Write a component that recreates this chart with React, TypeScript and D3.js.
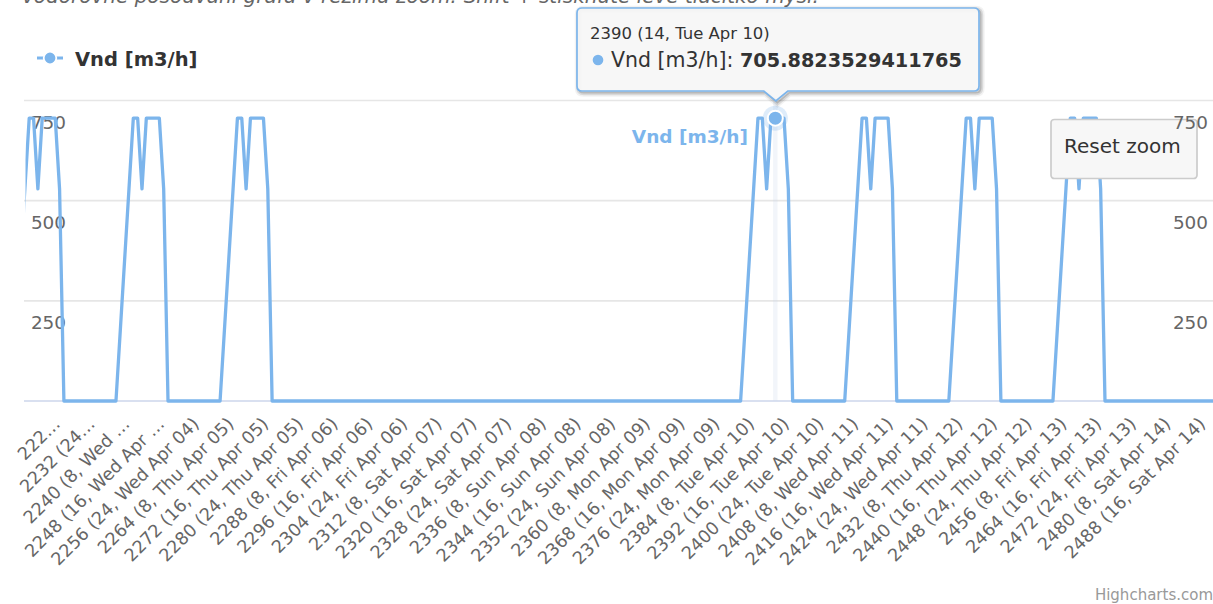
import React from 'react';
import * as d3 from 'd3';

// ---------- data ----------
const startCategory = 2209; // hour 1 of Tue Apr 03
const dayNames: string[] = [
  'Tue Apr 03', 'Wed Apr 04', 'Thu Apr 05', 'Fri Apr 06', 'Sat Apr 07', 'Sun Apr 08',
  'Mon Apr 09', 'Tue Apr 10', 'Wed Apr 11', 'Thu Apr 12', 'Fri Apr 13', 'Sat Apr 14',
];
// hourly values, one row per day (hours 1..24)
const vnd: number[] = [
  // Tue Apr 03
  0, 0, 0, 0, 0, 0, 176.47, 352.94, 529.41, 705.8823529411765, 705.8823529411765, 529.41, 705.8823529411765, 705.8823529411765, 705.8823529411765, 705.8823529411765, 529.41, 0, 0, 0, 0, 0, 0, 0,
  // Wed Apr 04
  0, 0, 0, 0, 0, 0, 176.47, 352.94, 529.41, 705.8823529411765, 705.8823529411765, 529.41, 705.8823529411765, 705.8823529411765, 705.8823529411765, 705.8823529411765, 529.41, 0, 0, 0, 0, 0, 0, 0,
  // Thu Apr 05
  0, 0, 0, 0, 0, 0, 176.47, 352.94, 529.41, 705.8823529411765, 705.8823529411765, 529.41, 705.8823529411765, 705.8823529411765, 705.8823529411765, 705.8823529411765, 529.41, 0, 0, 0, 0, 0, 0, 0,
  // Fri Apr 06
  0, 0, 0, 0, 0, 0, 0, 0, 0, 0, 0, 0, 0, 0, 0, 0, 0, 0, 0, 0, 0, 0, 0, 0,
  // Sat Apr 07
  0, 0, 0, 0, 0, 0, 0, 0, 0, 0, 0, 0, 0, 0, 0, 0, 0, 0, 0, 0, 0, 0, 0, 0,
  // Sun Apr 08
  0, 0, 0, 0, 0, 0, 0, 0, 0, 0, 0, 0, 0, 0, 0, 0, 0, 0, 0, 0, 0, 0, 0, 0,
  // Mon Apr 09
  0, 0, 0, 0, 0, 0, 0, 0, 0, 0, 0, 0, 0, 0, 0, 0, 0, 0, 0, 0, 0, 0, 0, 0,
  // Tue Apr 10
  0, 0, 0, 0, 0, 0, 176.47, 352.94, 529.41, 705.8823529411765, 705.8823529411765, 529.41, 705.8823529411765, 705.8823529411765, 705.8823529411765, 705.8823529411765, 529.41, 0, 0, 0, 0, 0, 0, 0,
  // Wed Apr 11
  0, 0, 0, 0, 0, 0, 176.47, 352.94, 529.41, 705.8823529411765, 705.8823529411765, 529.41, 705.8823529411765, 705.8823529411765, 705.8823529411765, 705.8823529411765, 529.41, 0, 0, 0, 0, 0, 0, 0,
  // Thu Apr 12
  0, 0, 0, 0, 0, 0, 176.47, 352.94, 529.41, 705.8823529411765, 705.8823529411765, 529.41, 705.8823529411765, 705.8823529411765, 705.8823529411765, 705.8823529411765, 529.41, 0, 0, 0, 0, 0, 0, 0,
  // Fri Apr 13
  0, 0, 0, 0, 0, 0, 176.47, 352.94, 529.41, 705.8823529411765, 705.8823529411765, 529.41, 705.8823529411765, 705.8823529411765, 705.8823529411765, 705.8823529411765, 529.41, 0, 0, 0, 0, 0, 0, 0,
  // Sat Apr 14
  0, 0, 0, 0, 0, 0, 0, 0, 0, 0, 0, 0, 0, 0, 0, 0, 0, 0, 0, 0, 0, 0, 0, 0,
];

const viewMin = 2216.8; // zoomed window
const viewMax = 2490.9;
const tickCategories: number[] = d3.range(2224, 2489, 8);
const tickLabels: string[] = [
  '222…', '2232 (24…', '2240 (8, Wed …', '2248 (16, Wed Apr …', '2256 (24, Wed Apr 04)',
  '2264 (8, Thu Apr 05)', '2272 (16, Thu Apr 05)', '2280 (24, Thu Apr 05)', '2288 (8, Fri Apr 06)',
  '2296 (16, Fri Apr 06)', '2304 (24, Fri Apr 06)', '2312 (8, Sat Apr 07)', '2320 (16, Sat Apr 07)',
  '2328 (24, Sat Apr 07)', '2336 (8, Sun Apr 08)', '2344 (16, Sun Apr 08)', '2352 (24, Sun Apr 08)',
  '2360 (8, Mon Apr 09)', '2368 (16, Mon Apr 09)', '2376 (24, Mon Apr 09)', '2384 (8, Tue Apr 10)',
  '2392 (16, Tue Apr 10)', '2400 (24, Tue Apr 10)', '2408 (8, Wed Apr 11)', '2416 (16, Wed Apr 11)',
  '2424 (24, Wed Apr 11)', '2432 (8, Thu Apr 12)', '2440 (16, Thu Apr 12)', '2448 (24, Thu Apr 12)',
  '2456 (8, Fri Apr 13)', '2464 (16, Fri Apr 13)', '2472 (24, Fri Apr 13)', '2480 (8, Sat Apr 14)',
  '2488 (16, Sat Apr 14)',
];
const yTicks: number[] = [250, 500, 750];
const seriesName = 'Vnd [m3/h]';
const hoverCategory = 2390;
const subtitle = 'vodorovné posouvání grafu v režimu zoom: Shift + stisknuté levé tlačítko myši.';

// ---------- layout ----------
const W = 1213;
const H = 604;
const plotLeft = 24;
const plotRight = 1213;
const plotTop = 100.5;
const plotBottom = 401;
const color = '#7cb5ec';
const font = '"DejaVu Sans", Verdana, sans-serif';

function categoryLabel(c: number): string {
  const i = c - startCategory;
  const hour = (i % 24) + 1;
  return `${c} (${hour}, ${dayNames[Math.floor(i / 24)]})`;
}

export default function App() {
  const x = d3.scaleLinear().domain([viewMin, viewMax]).range([plotLeft, plotRight]);
  const y = d3.scaleLinear().domain([0, 750]).range([plotBottom, plotTop]);
  const line = d3
    .line<number>()
    .x((_, i) => x(startCategory + i))
    .y((d) => y(d));
  const catW = x(1) - x(0);

  const hv = vnd[hoverCategory - startCategory];
  const hx = x(hoverCategory);
  const hy = y(hv);

  // tooltip callout
  const tx0 = 577, tx1 = 979, ty0 = 8, ty1 = 91, r = 5;
  const tipX = hx + 0.5, tipY = 101;
  const tooltipPath = `M${tx0 + r},${ty0} L${tx1 - r},${ty0} Q${tx1},${ty0} ${tx1},${ty0 + r} L${tx1},${ty1 - r} Q${tx1},${ty1} ${tx1 - r},${ty1} L${tipX + 12},${ty1} L${tipX},${tipY} L${tipX - 12},${ty1} L${tx0 + r},${ty1} Q${tx0},${ty1} ${tx0},${ty1 - r} L${tx0},${ty0 + r} Q${tx0},${ty0} ${tx0 + r},${ty0} Z`;

  return (
    <svg
      width={W}
      height={H}
      style={{ position: 'absolute', left: 0, top: 0, background: '#fff', fontFamily: font }}
    >
      <defs>
        <clipPath id="plotClip">
          <rect x={plotLeft + 1.5} y={plotTop - 10} width={plotRight - plotLeft} height={plotBottom - plotTop + 20} />
        </clipPath>
      </defs>
      <rect x={0} y={0} width={W} height={H} fill="#fff" />

      {/* subtitle (cut off at top, as in the reference) */}
      <text x={22} y={3} fontSize={20} fontStyle="italic" fill="#666666">
        {subtitle}
      </text>

      {/* legend */}
      <g>
        <line x1={37} x2={63} y1={58} y2={58} stroke={color} strokeWidth={3} />
        <circle cx={50} cy={58} r={6.3} fill={color} stroke="#fff" strokeWidth={1.8} />
        <text x={75} y={65.5} fontSize={19.5} fontWeight="bold" fill="#333333">
          {seriesName}
        </text>
      </g>

      {/* gridlines */}
      {yTicks.map((t) => (
        <line key={t} x1={plotLeft} x2={plotRight} y1={y(t)} y2={y(t)} stroke="#e6e6e6" strokeWidth={1.7} />
      ))}

      {/* crosshair band */}
      <rect x={hx - catW / 2} y={plotTop} width={catW} height={plotBottom - plotTop} fill="rgba(204,214,235,0.25)" />

      {/* x axis line */}
      <line x1={plotLeft} x2={plotRight} y1={plotBottom} y2={plotBottom} stroke="#ccd6eb" strokeWidth={1.7} />

      {/* left y labels */}
      {yTicks.map((t) => (
        <text key={'yl' + t} x={66} y={y(t) + 28.5} fontSize={18.4} fill="#666666" textAnchor="end">
          {t}
        </text>
      ))}

      {/* axis title inside plot */}
      <text x={748} y={143} fontSize={18.5} fontWeight="bold" fill={color} textAnchor="end">
        {seriesName}
      </text>

      {/* series */}
      <g clipPath="url(#plotClip)">
        <path d={line(vnd) || ''} fill="none" stroke={color} strokeWidth={3.3} strokeLinejoin="round" strokeLinecap="round" />
      </g>

      {/* x labels */}
      {tickCategories.map((c, i) => (
        <text
          key={c}
          transform={`translate(${x(c) + 6},${425}) rotate(-45)`}
          fontSize={17.6}
          fill="#666666"
          textAnchor="end"
        >
          {tickLabels[i]}
        </text>
      ))}

      {/* hover marker */}
      <circle cx={hx} cy={hy} r={12.5} fill={color} fillOpacity={0.25} />
      <circle cx={hx} cy={hy} r={7.5} fill={color} stroke="#fff" strokeWidth={2} />

      {/* reset zoom button */}
      <g>
        <rect x={1051} y={119.5} width={146} height={59} rx={3.3} fill="#f7f7f7" stroke="#cccccc" strokeWidth={1.7} />
        <text x={1064} y={153} fontSize={20} fill="#333333">
          Reset zoom
        </text>
      </g>

      {/* right y labels (drawn above the button) */}
      {yTicks.map((t) => (
        <text key={'yr' + t} x={1208} y={y(t) + 28.5} fontSize={18.4} fill="#666666" textAnchor="end">
          {t}
        </text>
      ))}

      {/* tooltip */}
      <g>
        <path d={tooltipPath} transform="translate(1.7,1.7)" fill="none" stroke="#000" strokeOpacity={0.05} strokeWidth={8} />
        <path d={tooltipPath} transform="translate(1.7,1.7)" fill="none" stroke="#000" strokeOpacity={0.1} strokeWidth={5} />
        <path d={tooltipPath} transform="translate(1.7,1.7)" fill="none" stroke="#000" strokeOpacity={0.15} strokeWidth={1.7} />
        <path d={tooltipPath} fill="rgba(247,247,247,0.95)" stroke={color} strokeWidth={1.7} />
        <text x={590} y={39} fontSize={16.5} fill="#333333">
          {categoryLabel(hoverCategory)}
        </text>
        <circle cx={598} cy={60} r={5.3} fill={color} />
        <text x={611} y={67} fontSize={20.5} fill="#333333">
          {seriesName}:{' '}
          <tspan fontWeight="bold" fontSize={19.3}>
            {String(hv)}
          </tspan>
        </text>
      </g>

      {/* credits */}
      <text x={1213} y={600} fontSize={15} fill="#999999" textAnchor="end">
        Highcharts.com
      </text>
    </svg>
  );
}
